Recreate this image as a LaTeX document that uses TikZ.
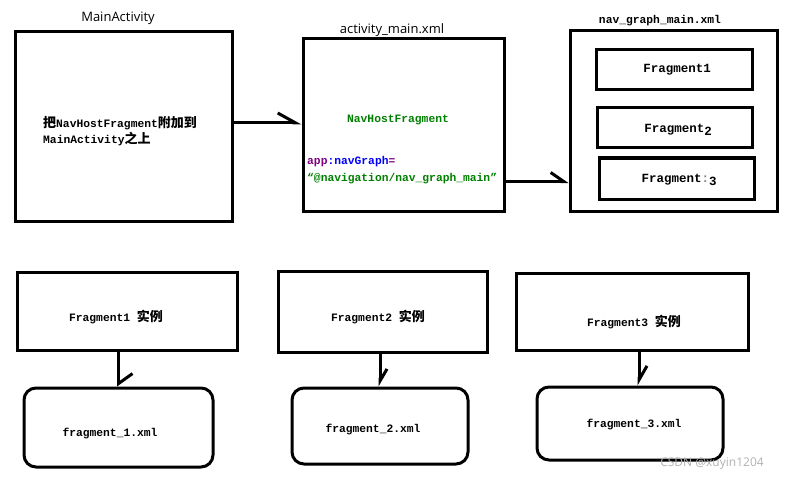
\documentclass[tikz,border=0pt]{standalone}
\usepackage{fontspec}
\setmainfont{Open Sans}
\setmonofont{Liberation Mono}
\newfontfamily\cjk[Scale=1.15]{Noto Sans CJK SC}
\usetikzlibrary{arrows.meta}
\definecolor{xmlgreen}{RGB}{0,128,0}
\definecolor{xmlpurple}{RGB}{128,0,128}
\definecolor{xmlblue}{RGB}{0,0,255}
\begin{document}
\begin{tikzpicture}[x=1pt,y=-1pt,
  box/.style={draw, line width=3pt, inner sep=0pt},
  rbox/.style={box, rounded corners=12pt},
  lbl/.style={font=\fontsize{13}{15}\selectfont},
  mono/.style={font=\fontsize{11.3}{16.5}\selectfont\ttfamily\bfseries, inner sep=0pt},
  bigmono/.style={mono, font=\fontsize{12.5}{16.5}\selectfont\ttfamily\bfseries},
  conn/.style={line width=3pt},
]
\useasboundingbox[fill=white] (0,0) rectangle (791,481);

% top row
\node[box, minimum width=217pt, minimum height=189pt] (main) at (123.5,126.5) {};
\node[box, minimum width=201pt, minimum height=172pt] (act) at (403.5,125) {};
\node[box, minimum width=207pt, minimum height=180pt] (nav) at (673.5,121) {};
\node[box, minimum width=156pt, minimum height=40pt] (g1) at (674,70) {};
\node[box, minimum width=155pt, minimum height=40pt] (g2) at (674.5,128) {};
\node[box, minimum width=155pt, minimum height=41pt] (g3) at (676.5,178.5) {};

\node[lbl] (mainlbl) at (118,18) {MainActivity};
\node[lbl] (actlbl) at (392,30) {activity\_main.xml};
\node[mono] (navlbl) at (660,21) {nav\_graph\_main.xml};

\node[mono, anchor=west, align=left] (maintxt) at (43,131)
  {{\cjk 把}NavHostFragment{\cjk 附加到}\\MainActivity{\cjk 之上}};
\node[mono, text=xmlgreen] (nhf) at (398,120) {NavHostFragment};
\node[mono, anchor=west, align=left] (navattr) at (307,170)
  {\textcolor{xmlpurple}{app}\textcolor{xmlblue}{:navGraph}\textcolor{xmlpurple}{=}\\
   \textcolor{xmlgreen}{“@navigation/nav\_graph\_main”}};

\node[bigmono] (g1t) at (677,70) {Fragment1};
\node[bigmono] (g2t) at (678,130) {Fragment\raisebox{-3pt}{2}};
\node[bigmono] (g3t) at (679,180) {Fragment\textcolor{gray}{:}\raisebox{-3pt}{3}};

% bottom row
\node[box, minimum width=220pt, minimum height=78pt] (i1) at (127,311) {};
\node[box, minimum width=209pt, minimum height=81pt] (i2) at (382.5,311.5) {};
\node[box, minimum width=232pt, minimum height=77pt] (i3) at (632,311.5) {};
\node[rbox, minimum width=189pt, minimum height=79pt] (x1) at (118.5,427.5) {};
\node[rbox, minimum width=176pt, minimum height=76pt] (x2) at (380,426) {};
\node[rbox, minimum width=186pt, minimum height=73pt] (x3) at (630,423.5) {};

\node[mono] (i1t) at (116,317) {Fragment1 {\cjk 实例}};
\node[mono] (i2t) at (378,317) {Fragment2 {\cjk 实例}};
\node[mono] (i3t) at (634,322) {Fragment3 {\cjk 实例}};
\node[mono] (x1t) at (110,434) {fragment\_1.xml};
\node[mono] (x2t) at (373,430) {fragment\_2.xml};
\node[mono] (x3t) at (634,425) {fragment\_3.xml};

\node[font=\fontsize{12}{14}\selectfont, text=gray!60] (wm) at (712,464) {CSDN @xuyin1204};

% connectors
\draw[conn, -{Straight Barb[harpoon,length=18pt,width=20pt]}]
  ([yshift=3.5pt]main.east) -- ([yshift=3.5pt]main.east -| act.west);
\draw[conn, -{Straight Barb[harpoon,length=13pt,width=18pt]}]
  ([yshift=31pt]act.south east) -- ([yshift=31pt]act.south east -| nav.west);
\draw[conn, -{Straight Barb[harpoon,length=10pt,width=28pt]}]
  (i1.south -| x1.north) -- (x1.north);
\draw[conn, -{Straight Barb[harpoon,length=12pt,width=14pt]}]
  (i2.south -| x2.north) -- (x2.north);
\draw[conn, -{Straight Barb[harpoon,length=14pt,width=16pt]}]
  ([xshift=9pt]i3.south -| x3.north) -- ([xshift=9pt]x3.north);
\end{tikzpicture}
\end{document}
